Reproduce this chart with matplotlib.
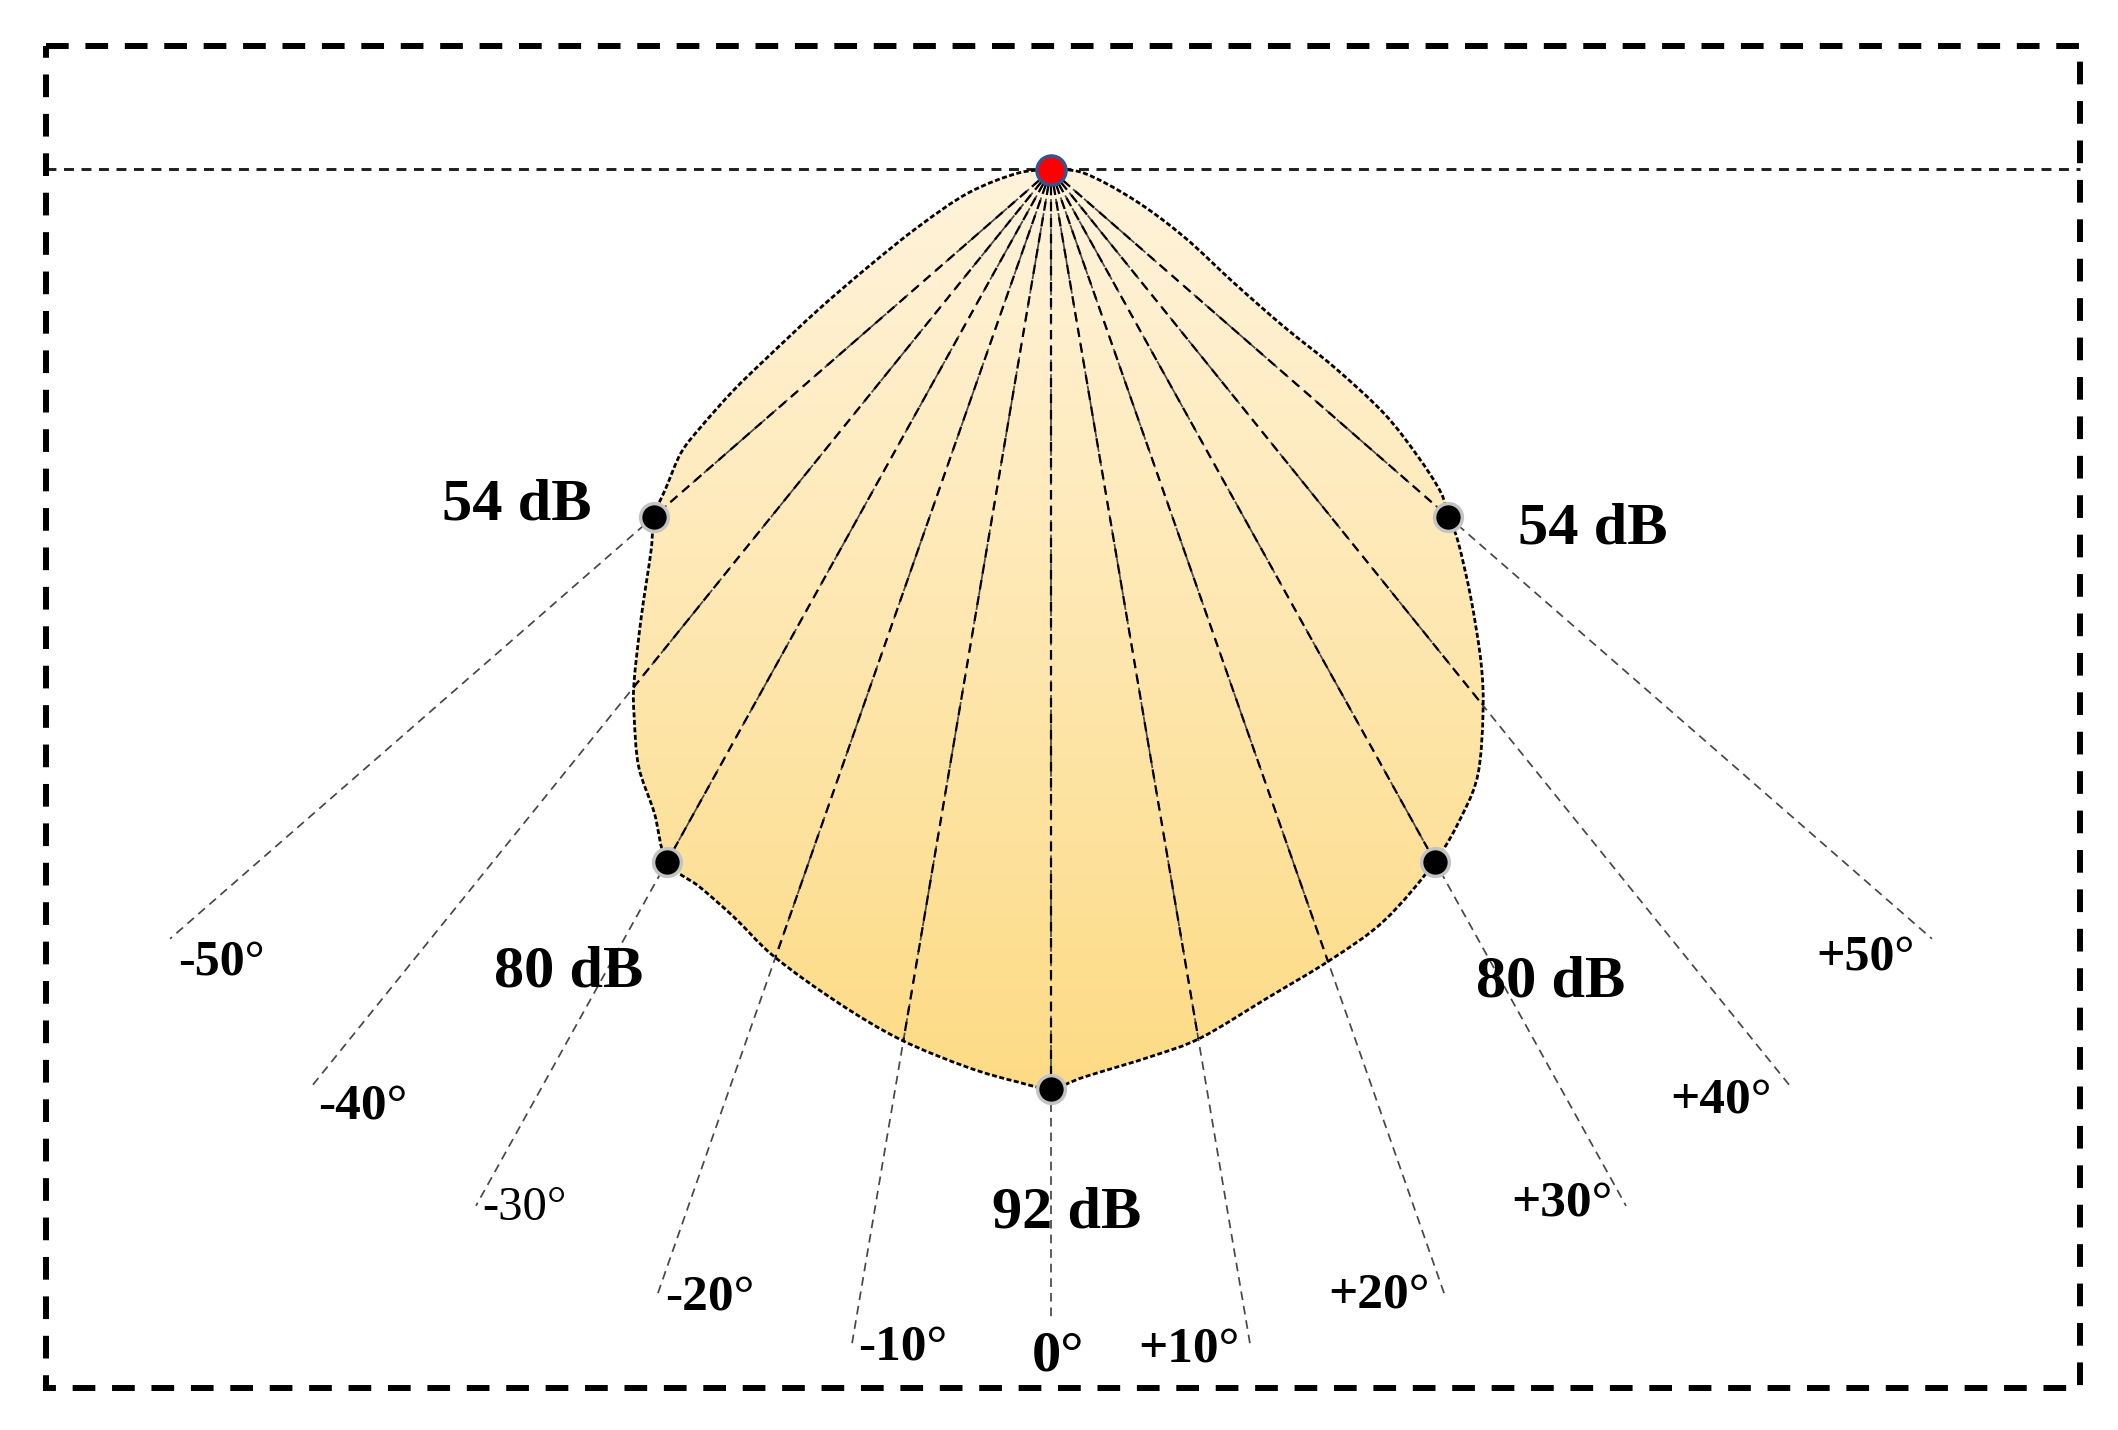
import numpy as np
import matplotlib
matplotlib.use("Agg")
import matplotlib.pyplot as plt
from matplotlib.patches import PathPatch, Rectangle
from matplotlib.path import Path
from matplotlib.colors import LinearSegmentedColormap

# measurement directions (deg from the downward axis) and their labels
ray_deg = [-50, -40, -30, -20, -10, 0, 10, 20, 30, 40, 50]
ray_labels = ["-50°", "-40°", "-30°", "-20°", "-10°", "0°", "+10°", "+20°", "+30°", "+40°", "+50°"]

# measured sound levels on the pattern
mark_deg = [-50, 50, -30, 30, 0]
mark_db = [54, 54, 80, 80, 92]

# pattern outline: direction (deg) and level (dB)
outline_deg = [-90, -85.0, -75.1, -67.6, -63.0, -60.0, -57.6, -56.3, -54.8, -53.7, -51.5, -50,
               -47.6, -43.6, -40.2, -38.4, -35.7, -32.7, -30, -27.0, -23.8, -20.1, -14.9, -10.2,
               -5.5, -2.2, 0, 2.2, 6.7, 10.2, 15.3, 20.2, 24.8, 30, 33.7, 36.4, 39.6, 42.2, 45.6,
               48.8, 50, 51.5, 53.1, 54.9, 56.2, 57.1, 59.3, 64.2, 70.9, 85.0, 90]
outline_db = [0, 3.4, 8.9, 15.0, 21.4, 28.0, 34.9, 39.7, 44.6, 47.8, 51.3, 54,
              56.4, 61.9, 67.3, 69.9, 73.6, 76.5, 80, 80.6, 81.8, 83.9, 86.3, 88.5,
              90.3, 91.4, 92, 90.9, 89.4, 88.3, 85.9, 84.3, 82.8, 80, 77.4, 75.0, 70.6, 66.7, 61.2,
              56.3, 54, 51.9, 47.8, 42.4, 35.5, 28.9, 22.2, 15.4, 9.2, 3.4, 0]

# ---- layout (pixel units of the canvas) ----
W, H = 2118, 1430
OX, OY = 1051, 170          # source position
PX_PER_DB = 9.6
YSTRETCH = 1.04
RAY_LEN = [1150, 1150, 1150, 1150, 1150, 1105, 1150, 1150, 1150, 1150, 1150]
LBL_DX = [8, 6, 6, 7, 7, 0, -11, -15, -14, -19, -17]
LBL_DY = [36, 32, 14, 16, 12, 51, 14, 14, 10, 26, 31]
LBL_SIZE = [36, 37, 35, 37, 37, 42, 37, 37, 37, 37, 36]
LBL_WEIGHT = ["bold", "bold", "normal", "bold", "bold", "bold", "bold", "bold", "bold", "bold", "bold"]
DB_DX = [-137, 145, -98, 116, 16]
DB_DY = [3, 27, 125, 135, 139]
SERIF = ["Liberation Serif", "DejaVu Serif"]


def to_xy(deg, r):
    th = np.radians(np.asarray(deg, dtype=float))
    r = np.asarray(r, dtype=float)
    return OX + r * np.sin(th), OY + YSTRETCH * r * np.cos(th)


def smooth_path(x, y):
    """Bezier path passing through the given points (Catmull-Rom handles)."""
    pts = np.column_stack([x, y])
    ext = np.vstack([pts[0], pts, pts[-1]])
    verts = [pts[0]]
    codes = [Path.MOVETO]
    for i in range(1, len(ext) - 2):
        p0, p1, p2, p3 = ext[i - 1], ext[i], ext[i + 1], ext[i + 2]
        verts += [p1 + (p2 - p0) / 6, p2 - (p3 - p1) / 6, p2]
        codes += [Path.CURVE4] * 3
    return Path(np.array(verts), codes)


fig = plt.figure(figsize=(W / 100, H / 100), dpi=100)
ax = fig.add_axes([0, 0, 1, 1])

# outline of the pattern
px, py = to_xy(outline_deg, np.array(outline_db) * PX_PER_DB)
shape = smooth_path(px, py)
clip = PathPatch(shape, transform=ax.transData)

cmap = LinearSegmentedColormap.from_list("fill", ["#FFF3DB", "#FDDB84"])
grad = np.linspace(0, 1, 256).reshape(-1, 1)
im = ax.imshow(grad, cmap=cmap, extent=(px.min() - 10, px.max() + 10, py.max() + 10, OY),
               aspect="auto", zorder=1, interpolation="bilinear")
im.set_clip_path(clip)

# rays: grey outside the pattern, darker inside
for i, d in enumerate(ray_deg):
    ex, ey = to_xy(d, RAY_LEN[i])
    ax.plot([OX, ex], [OY, ey], color="#474747", lw=1.25, ls=(0, (5, 3.4)), zorder=2)
    inner, = ax.plot([OX, ex], [OY, ey], color="black", lw=1.6, ls=(0, (4.2, 3.0)), zorder=2.5)
    inner.set_clip_path(clip)

    if d < 0:
        ha, tx = "left", ex + LBL_DX[i]
    elif d > 0:
        ha, tx = "right", ex + LBL_DX[i]
    else:
        ha, tx = "center", ex + 7
    ax.text(tx, ey + LBL_DY[i], ray_labels[i], ha=ha, va="baseline",
            fontsize=LBL_SIZE[i], fontweight=LBL_WEIGHT[i], family=SERIF, zorder=6)

ax.add_patch(PathPatch(shape, fill=False, edgecolor="black", lw=2.0,
                       ls=(0, (1.8, 0.9)), zorder=3))

# reference line through the source and the frame
ax.plot([46, 2080], [OY - 1, OY - 1], color="#1e1e1e", lw=2.1, ls=(0, (3.4, 2.6)), zorder=2)
ax.add_patch(Rectangle((46, 46), 2034, 1342, fill=False, edgecolor="black",
                       lw=4.3, ls=(0, (3.8, 2.8)), zorder=2))

# measurement points
mx, my = to_xy(mark_deg, np.array(mark_db) * PX_PER_DB)
ax.plot(mx, my, "o", ms=20, mfc="black", mec="#c4c4c4", mew=2.5, zorder=5)
ax.plot([OX], [OY], "o", ms=21, mfc="#ff0000", mec="#2f5597", mew=2.4, zorder=5)

for i, db in enumerate(mark_db):
    ax.text(mx[i] + DB_DX[i], my[i] + DB_DY[i], f"{db} dB", ha="center", va="baseline",
            fontsize=43.5, fontweight="bold", family=SERIF, zorder=6)

ax.set_xlim(0, W)
ax.set_ylim(H, 0)
ax.axis("off")

fig.savefig("out.png", dpi=100, facecolor="white")
